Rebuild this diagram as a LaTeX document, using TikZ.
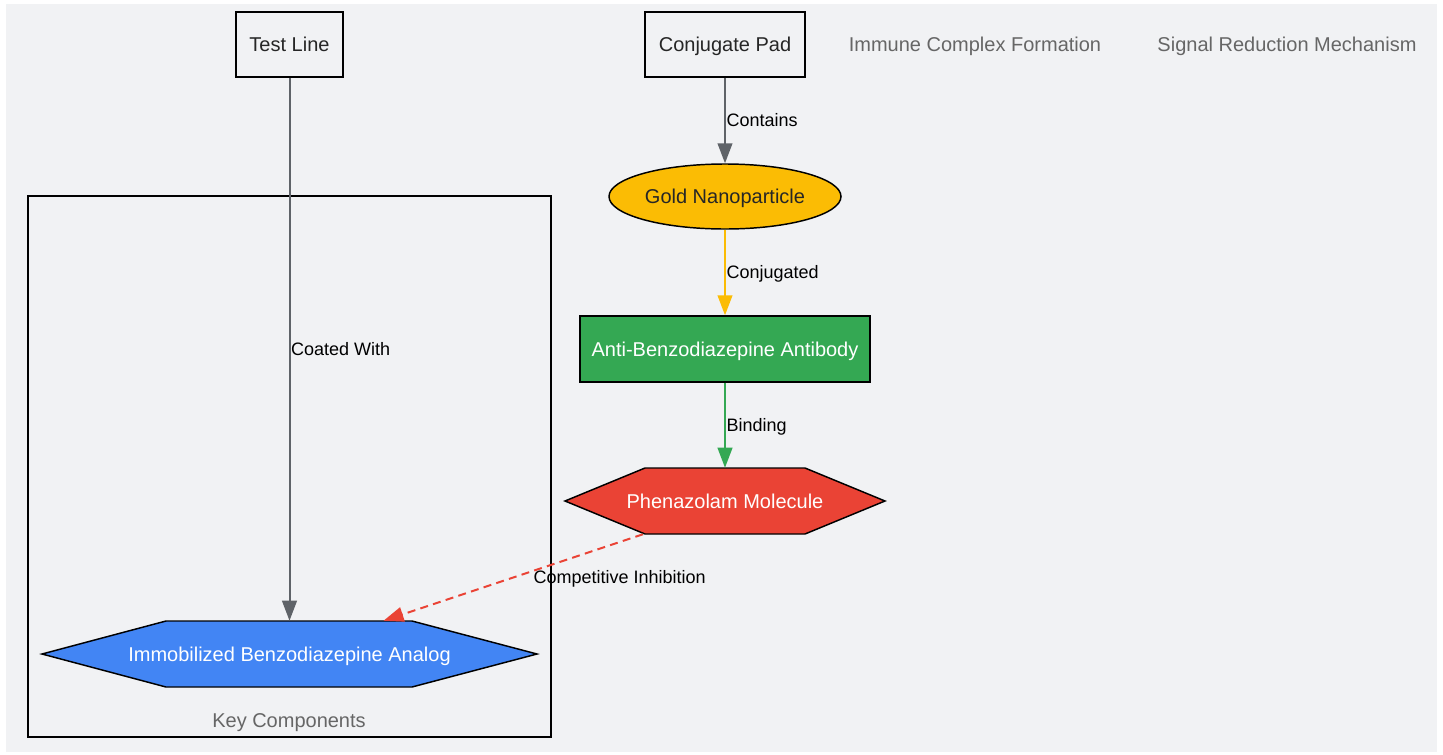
\documentclass[tikz,border=0pt]{standalone}
\usepackage{fontspec}
\setmainfont{Liberation Sans}
\usetikzlibrary{shapes.geometric,arrows.meta}

\definecolor{panelbg}{HTML}{F1F2F4}
\definecolor{edgegray}{HTML}{5F6368}
\definecolor{titlegray}{HTML}{666666}
\definecolor{goldfill}{HTML}{FBBC04}
\definecolor{greenfill}{HTML}{34A853}
\definecolor{redfill}{HTML}{EA4335}
\definecolor{bluefill}{HTML}{4285F4}

\tikzset{
  every node/.append style={text height=12.5pt,text depth=1.7pt},
  padbox/.style={draw=black,line width=1.1pt,fill=panelbg,text=black!85,minimum width=80pt,minimum height=48.75pt},
  goldell/.style={ellipse,draw=black,line width=1.1pt,fill=goldfill,text=black!85,minimum width=174pt,minimum height=48.75pt,inner sep=0pt},
  abbox/.style={draw=black,line width=1.1pt,fill=greenfill,text=white,minimum width=217.5pt,minimum height=49.5pt},
  hexshape/.style={draw=black,line width=1.1pt,line join=miter},
  hexnode/.style={text=white,inner sep=0pt,minimum height=49.5pt},
  grouptitle/.style={text=titlegray},
  flow/.style={line width=1.5pt,-{Triangle[length=15pt,width=11pt]}},
  flowlabel/.style={text=black,inner sep=0.5pt,font=\fontsize{13.5}{16}\selectfont,text height=11.3pt,text depth=1.6pt}
}

\begin{document}
\begin{tikzpicture}[x=0.75pt,y=-0.75pt,font=\fontsize{15}{17}\selectfont]
			\useasboundingbox (0,0) rectangle (1443,754);
			\fill[white](0,0) rectangle (1443,754);
			\fill[panelbg](6,4) rectangle (1437,752);
			% key components group
			\draw[line width=1pt](28,196) rectangle (551,737);
			\node[grouptitle] (keytitle) at (289,720) {Key Components};
			\node[grouptitle] (immtitle) at (975,44) {Immune Complex Formation};
			\node[grouptitle] (sigtitle) at (1287,44) {Signal Reduction Mechanism};
			% hexagon outlines
			\filldraw[hexshape,fill=redfill](565,501)--(645,468)--(805,468)--(885,501)--(805,534)--(645,534)--cycle;
			\filldraw[hexshape,fill=bluefill](42,654)--(166,621)--(412,621)--(537,654)--(412,687)--(166,687)--cycle;
			% nodes
			\node[padbox] (testline) at (289.5,44.5) {Test Line};
			\node[padbox,minimum width=120pt] (conjpad) at (725,44.5) {Conjugate Pad};
			\node[goldell] (gold) at (725,196.5) {Gold Nanoparticle};
			\node[abbox] (antibody) at (725,349) {Anti-Benzodiazepine Antibody};
			\node[hexnode,minimum width=240pt] (phen) at (725,501) {Phenazolam Molecule};
			\node[hexnode,minimum width=371pt] (immob) at (289.5,654) {Immobilized Benzodiazepine Analog};
			% connectors
			\draw[flow,edgegray](testline)--(immob) node[midway,right,flowlabel]{Coated With};
			\draw[flow,edgegray](conjpad)--(gold) node[midway,right,flowlabel]{Contains};
			\draw[flow,goldfill](gold)--(antibody) node[midway,right,flowlabel]{Conjugated};
			\draw[flow,greenfill](antibody)--(phen) node[midway,right,flowlabel]{Binding};
			\draw[flow,redfill,dash pattern=on 6pt off 4pt]([xshift=-61.5pt]phen.south)--([xshift=70.5pt]immob.north)
			  node[midway,right,flowlabel,xshift=14pt]{Competitive Inhibition};
\end{tikzpicture}
\end{document}
